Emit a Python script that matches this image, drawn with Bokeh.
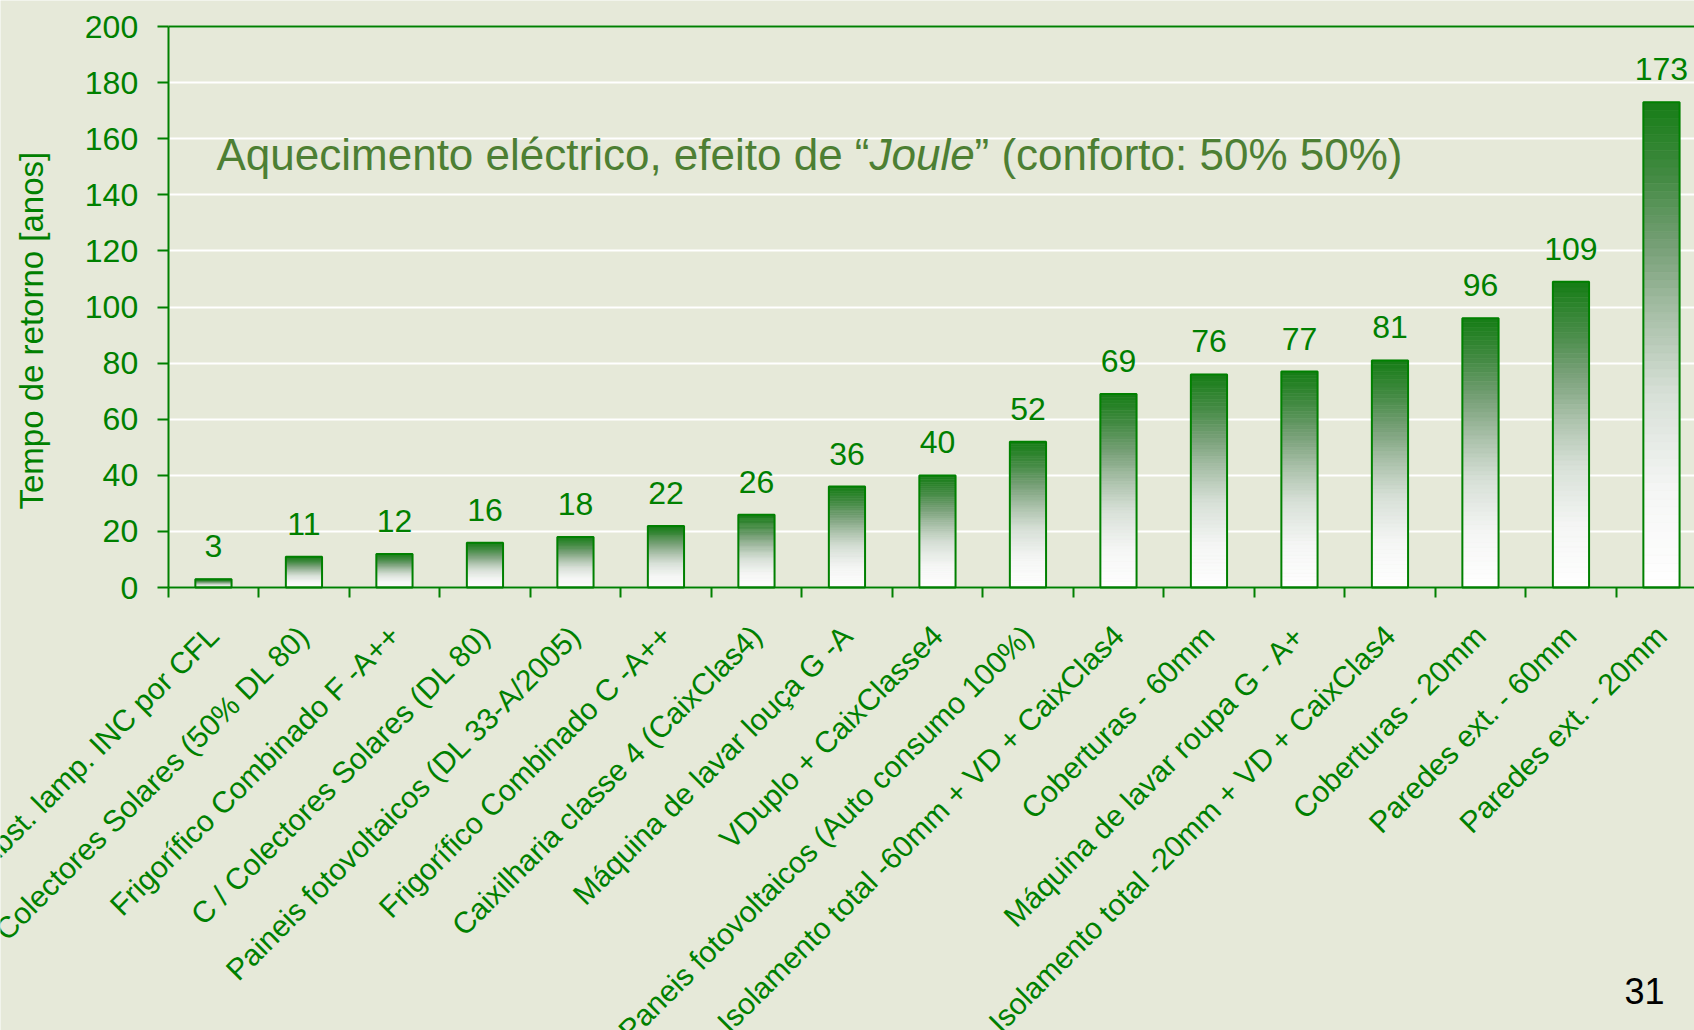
import numpy as np
from bokeh.plotting import figure
from bokeh.models import Range1d, FixedTicker, Label, LinearAxis
from bokeh.embed import file_html
from bokeh.resources import INLINE
from bokeh.core.properties import value

# ---------------- data ----------------
categories = [
    "Subst. lamp. INC por CFL",
    "C/ Colectores Solares (50% DL 80)",
    "Frigorífico Combinado F -A++",
    "C / Colectores Solares (DL 80)",
    "Paineis fotovoltaicos (DL 33-A/2005)",
    "Frigorífico Combinado C -A++",
    "Caixilharia classe 4 (CaixClas4)",
    "Máquina de lavar louça G -A",
    "VDuplo + CaixClasse4",
    "Paneis fotovoltaicos (Auto consumo 100%)",
    "Isolamento total -60mm + VD + CaixClas4",
    "Coberturas - 60mm",
    "Máquina de lavar roupa G - A+",
    "Isolamento total -20mm + VD + CaixClas4",
    "Coberturas - 20mm",
    "Paredes ext. - 60mm",
    "Paredes ext. - 20mm",
]
values = [3, 11, 12, 16, 18, 22, 26, 36, 40, 52, 69, 76, 77, 81, 96, 109, 173]
y_ticks = [0, 20, 40, 60, 80, 100, 120, 140, 160, 180, 200]
y_title = "Tempo de retorno [anos]"
title_parts = ["Aquecimento eléctrico, efeito de \u201c", "Joule", "\u201d (conforto: 50% 50%)"]
page_number = "31"

# ---------------- style ----------------
GREEN = "#008000"
TITLE_GREEN = "#4D7F33"
BG = "#E6E9D9"
FONT = "Liberation Sans"

n = len(values)
centers = np.arange(n) + 0.5
boundaries = list(range(n + 1))

# The frame fills the whole canvas; axes are pinned at x = 0 and y = 0
p = figure(width=1694, height=1030, output_backend="svg", toolbar_location=None,
           x_range=Range1d(-1.853, 16.865), y_range=Range1d(-157.9, 209.3),
           min_border_left=0, min_border_right=0, min_border_top=0, min_border_bottom=0)
p.background_fill_color = BG
p.border_fill_color = BG
p.outline_line_color = None

# grid (horizontal lines only right of the value axis)
p.xgrid.visible = False
p.ygrid.grid_line_color = "white"
p.ygrid.grid_line_width = 2
p.ygrid.ticker = FixedTicker(ticks=y_ticks)
p.ygrid.bounds = (y_ticks[0], y_ticks[-1])
try:
    p.ygrid.cross_bounds = (0, n)
except Exception:
    p.ygrid.visible = False
    p.segment(x0=[0] * len(y_ticks), x1=[n] * len(y_ticks), y0=y_ticks, y1=y_ticks,
              line_color="white", line_width=2)

# gradient bars (slices computed from each value)
stop_f = [0.0, 0.2, 0.4, 0.55, 0.7, 0.85, 1.0]
stop_rgb = np.array([[255, 255, 255], [245, 246, 245], [215, 224, 215], [172, 194, 172],
                     [120, 160, 120], [66, 138, 66], [22, 125, 22]], dtype=float)
N = 60
L, R, B, T, C = [], [], [], [], []
for xc, v in zip(centers, values):
    for k in range(N):
        f0, f1 = k / N, (k + 1) / N
        fm = (f0 + f1) / 2
        rgb = [np.interp(fm, stop_f, stop_rgb[:, j]) for j in range(3)]
        L.append(xc - 0.2); R.append(xc + 0.2)
        B.append(v * f0); T.append(v * f1)
        C.append("#%02x%02x%02x" % tuple(int(round(c)) for c in rgb))
p.quad(left=L, right=R, bottom=B, top=T, fill_color=C, line_color=C, line_width=0.6)
p.vbar(x=centers, top=values, width=0.4, fill_color=None, line_color=GREEN, line_width=2)

# value labels
p.text(x=centers, y=values, text=[str(v) for v in values], text_align="center",
       text_baseline="alphabetic", y_offset=-33, text_font=value(FONT),
       text_font_size="32px", text_color=GREEN)

# y axis pinned at x = 0
p.yaxis.fixed_location = 0
p.yaxis.ticker = FixedTicker(ticks=y_ticks)
p.yaxis.bounds = (y_ticks[0], y_ticks[-1])
p.yaxis.axis_line_color = GREEN
p.yaxis.axis_line_width = 2
p.yaxis.major_tick_line_color = GREEN
p.yaxis.major_tick_line_width = 2
p.yaxis.major_tick_out = 11
p.yaxis.major_tick_in = 0
p.yaxis.minor_tick_line_color = None
p.yaxis.major_label_text_font = FONT
p.yaxis.major_label_text_font_size = "32px"
p.yaxis.major_label_text_color = GREEN
p.yaxis.major_label_standoff = 19

# x axis (category labels) pinned at y = 0; a blank spacer tick sits left of the first category
spacer = -1.5
p.xaxis.fixed_location = 0
p.xaxis.ticker = FixedTicker(ticks=[spacer] + list(centers), minor_ticks=boundaries)
overrides = {float(x): c for x, c in zip(centers, categories)}
overrides[spacer] = ""
p.xaxis.major_label_overrides = overrides
p.xaxis.major_label_orientation = np.pi / 4
p.xaxis.axis_line_color = None
p.xaxis.major_tick_line_color = None
p.xaxis.major_tick_out = 0
p.xaxis.major_tick_in = 0
p.xaxis.minor_tick_line_color = GREEN
p.xaxis.minor_tick_line_width = 2
p.xaxis.minor_tick_out = 10
p.xaxis.minor_tick_in = 0
p.xaxis.major_label_text_font = FONT
p.xaxis.major_label_text_font_size = "30px"
p.xaxis.major_label_text_color = GREEN
p.xaxis.major_label_standoff = 33

# base line at y = 0 and top border line at y = 200, both only over the categories
for loc, side in ((y_ticks[0], "below"), (y_ticks[-1], "above")):
    ax = LinearAxis(fixed_location=loc, bounds=(0, n), ticker=FixedTicker(ticks=[]),
                    axis_line_color=GREEN, axis_line_width=2,
                    major_tick_line_color=None, minor_tick_line_color=None,
                    major_label_text_font_size="0px")
    p.add_layout(ax, side)

# value-axis title
p.add_layout(Label(x=31, y=91.6, x_units="screen", text=y_title, angle=np.pi / 2,
                   text_font=FONT, text_font_size="33px", text_color=GREEN,
                   text_align="center", text_baseline="middle"))

# title inside plot (three parts, middle italic)
offsets = [216, 869, 974]
styles = ["normal", "italic", "normal"]
for txt, off, st in zip(title_parts, offsets, styles):
    p.add_layout(Label(x=off, y=154.5, x_units="screen", text=txt, text_font=FONT,
                       text_font_size="44px", text_font_style=st, text_color=TITLE_GREEN,
                       text_baseline="alphabetic"))

# page number
p.add_layout(Label(x=1664, y=40, x_units="screen", y_units="screen", text=page_number,
                   text_font=FONT, text_font_size="36px", text_color="black",
                   text_align="right", text_baseline="alphabetic"))

open("out.html", "w").write(file_html(p, INLINE))
